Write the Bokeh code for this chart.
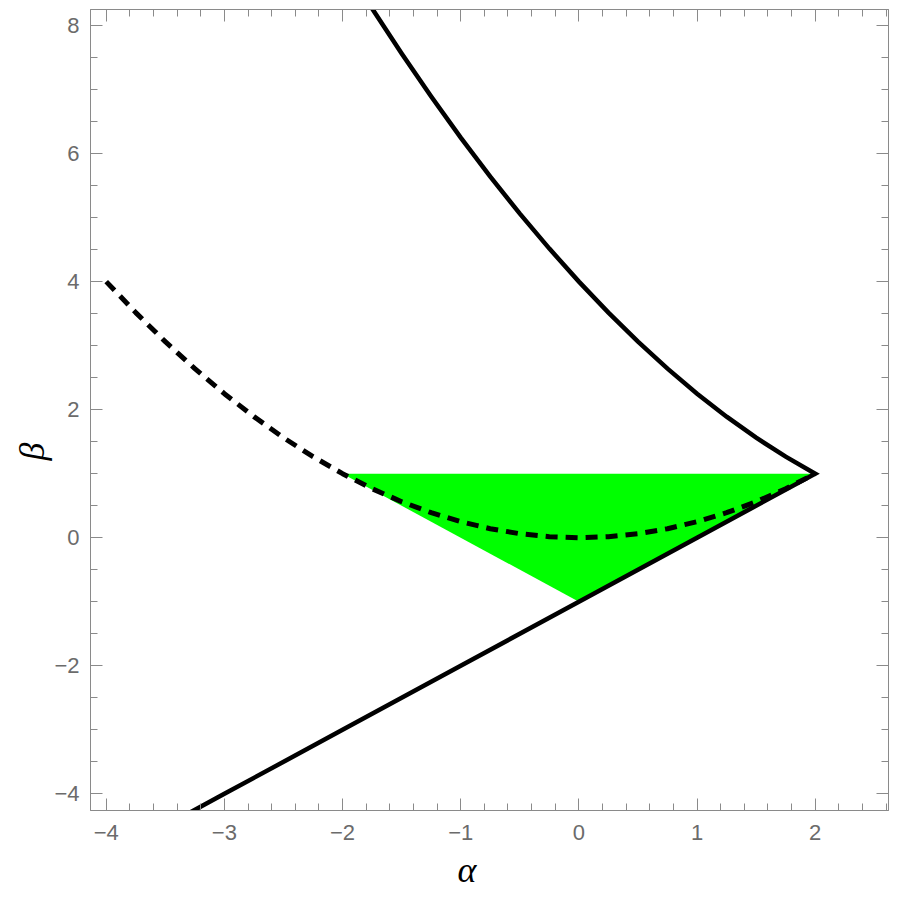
from bokeh.plotting import figure
from bokeh.models import Range1d, LinearAxis, SingleIntervalTicker, CustomJSTickFormatter, Title
from bokeh.embed import file_html
from bokeh.resources import INLINE

# Upper solid boundary
upper_alpha = [-2.0, -1.75, -1.5, -1.25, -1.0, -0.75, -0.5, -0.25, 0.0, 0.25, 0.5, 0.75, 1.0, 1.25, 1.5, 1.75, 2.0]
upper_beta = [9.0, 8.266, 7.5625, 6.891, 6.25, 5.641, 5.0625, 4.516, 4.0, 3.516, 3.0625, 2.641, 2.25, 1.891, 1.5625, 1.266, 1.0]

# Lower solid boundary (straight line)
lower_alpha = [2.0, 1.0, 0.0, -1.0, -2.0, -3.0, -4.0]
lower_beta = [1.0, 0.0, -1.0, -2.0, -3.0, -4.0, -5.0]

# Dashed curve
dash_alpha = [-4.0, -3.75, -3.5, -3.25, -3.0, -2.75, -2.5, -2.25, -2.0, -1.75, -1.5, -1.25, -1.0,
              -0.75, -0.5, -0.25, 0.0, 0.25, 0.5, 0.75, 1.0, 1.25, 1.5, 1.75, 2.0]
dash_beta = [4.0, 3.516, 3.0625, 2.641, 2.25, 1.891, 1.5625, 1.266, 1.0, 0.766, 0.5625, 0.391, 0.25,
             0.141, 0.0625, 0.016, 0.0, 0.016, 0.0625, 0.141, 0.25, 0.391, 0.5625, 0.766, 1.0]

# Green region (triangle)
region_alpha = [-2.0, 2.0, 0.0]
region_beta = [1.0, 1.0, -1.0]

FRAME = "#8a8a8a"
LABEL = "#6b6b6b"

p = figure(frame_width=798, frame_height=801,
           x_range=Range1d(-4.133, 2.62), y_range=Range1d(-4.26, 8.25),
           output_backend="svg", toolbar_location=None,
           x_axis_location=None, y_axis_location=None,
           min_border_left=90, min_border_right=4, min_border_top=9, min_border_bottom=82)
p.grid.visible = False
p.outline_line_color = FRAME
p.outline_line_width = 1
p.background_fill_color = "white"
p.border_fill_color = "white"

fmt = CustomJSTickFormatter(code="return tick < 0 ? '\u2212' + (-tick) : '' + tick;")
blank = CustomJSTickFormatter(code="return '';")

def make_axis(interval, nminor, labeled):
    ax = LinearAxis(ticker=SingleIntervalTicker(interval=interval, num_minor_ticks=nminor))
    ax.axis_line_color = FRAME
    ax.major_tick_line_color = FRAME
    ax.minor_tick_line_color = FRAME
    ax.major_tick_in = 12
    ax.major_tick_out = 0
    ax.minor_tick_in = 7
    ax.minor_tick_out = 0
    if labeled:
        ax.formatter = fmt
        ax.major_label_text_font = "Liberation Sans"
        ax.major_label_text_font_size = "22px"
        ax.major_label_text_color = LABEL
    else:
        ax.formatter = blank
        ax.major_label_text_font_size = "0px"
        ax.major_label_standoff = 0
    return ax

bottom = make_axis(1, 5, True)
bottom.major_label_standoff = 14
left = make_axis(2, 4, True)
left.major_label_standoff = 11
top = make_axis(1, 5, False)
right = make_axis(2, 4, False)

p.add_layout(bottom, "below")
p.add_layout(left, "left")
p.add_layout(top, "above")
p.add_layout(right, "right")

xlab = Title(text="α", align="left", offset=367, standoff=10,
             text_font="Liberation Serif", text_font_style="italic",
             text_font_size="36px", text_color="black")
ylab = Title(text="β", align="left", offset=350, standoff=0,
             text_font="Liberation Serif", text_font_style="italic",
             text_font_size="36px", text_color="black")
p.add_layout(xlab, "below")
p.add_layout(ylab, "left")

# green region
p.patch(region_alpha, region_beta, fill_color="#00ff00", line_color=None)

# solid boundary: upper curve joined with lower line at the cusp
bound_alpha = upper_alpha + lower_alpha[1:]
bound_beta = upper_beta + lower_beta[1:]
p.line(bound_alpha, bound_beta, line_color="black", line_width=4.5, line_join="miter")

# dashed curve
p.line(dash_alpha, dash_beta, line_color="black", line_width=5, line_dash="12 8", line_cap="butt")

open("out.html", "w").write(file_html(p, INLINE))
